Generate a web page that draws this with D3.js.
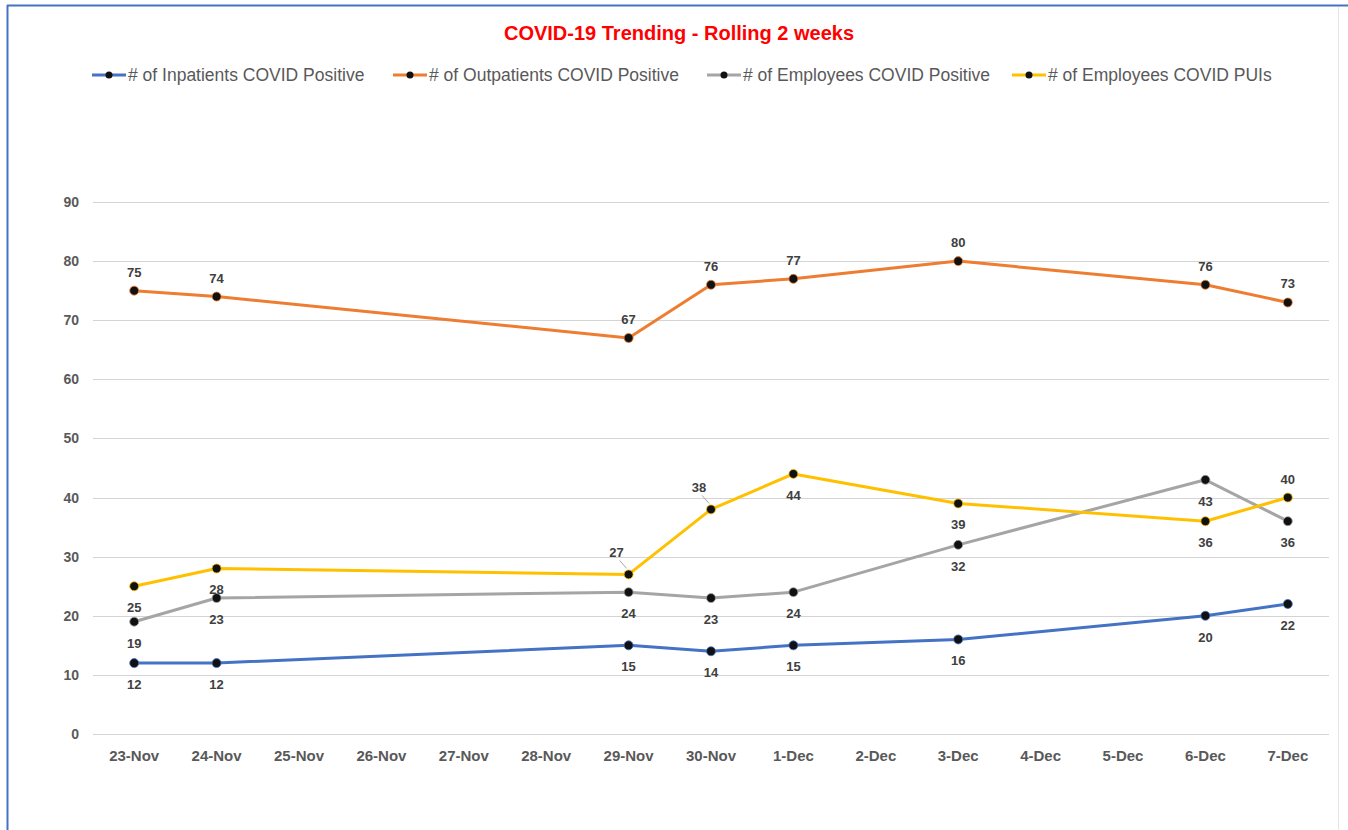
<!DOCTYPE html>
<html>
<head>
<meta charset="utf-8">
<script src="https://cdn.jsdelivr.net/npm/d3@7"></script>
<style>
  body { margin: 0; background: #fff; }
  svg { display: block; font-family: "Liberation Sans", Arial, sans-serif; }
</style>
</head>
<body>
<svg id="chart"></svg>
<script>
// categories on the x axis (one per day)
var days = ["23-Nov", "24-Nov", "25-Nov", "26-Nov", "27-Nov", "28-Nov", "29-Nov",
            "30-Nov", "1-Dec", "2-Dec", "3-Dec", "4-Dec", "5-Dec", "6-Dec", "7-Dec"];

// days that have readings
var reportDays = ["23-Nov", "24-Nov", "29-Nov", "30-Nov", "1-Dec", "3-Dec", "6-Dec", "7-Dec"];

var inpatients = [12, 12, 15, 14, 15, 16, 20, 22];
var outpatients = [75, 74, 67, 76, 77, 80, 76, 73];
var employeesPositive = [19, 23, 24, 23, 24, 32, 43, 36];
var employeesPUI = [25, 28, 27, 38, 44, 39, 36, 40];

var yTicks = [0, 10, 20, 30, 40, 50, 60, 70, 80, 90];

var seriesNames = ["# of Inpatients COVID Positive", "# of Outpatients COVID Positive",
                   "# of Employees COVID Positive", "# of Employees COVID PUIs"];

// parameters
var width = 1348;
var height = 830;
var plotLeft = 93, plotRight = 1329, plotTop = 202, plotBottom = 734;

var svg = d3.select("#chart").attr("width", width).attr("height", height);

// frame
svg.append("rect").attr("x", 0).attr("y", 0).attr("width", width).attr("height", height).attr("fill", "#fff");
svg.append("line").attr("x1", 7).attr("x2", width).attr("y1", 5.5).attr("y2", 5.5)
  .attr("stroke", "#4472C4").attr("stroke-width", 2);
svg.append("line").attr("x1", 7.5).attr("x2", 7.5).attr("y1", 5).attr("y2", height)
  .attr("stroke", "#4472C4").attr("stroke-width", 2);
svg.append("line").attr("x1", 1338.5).attr("x2", 1338.5).attr("y1", 7).attr("y2", height)
  .attr("stroke", "#e4e4ea").attr("stroke-width", 1);

// scales
var x = d3.scaleBand().domain(days).range([plotLeft, plotRight]);
var y = d3.scaleLinear().domain([0, 90]).range([plotBottom, plotTop]);
var cx = function (d) { return x(d) + x.bandwidth() / 2; };

// gridlines
for (var i = 0; i < yTicks.length; i += 1) {
  var gy = Math.round(y(yTicks[i])) + 0.5;
  svg.append("line").attr("x1", plotLeft).attr("x2", plotRight).attr("y1", gy).attr("y2", gy)
    .attr("stroke", "#d4d4d4").attr("stroke-width", 1);
}

// y axis labels
var yAxis = svg.append("g").attr("transform", "translate(" + (plotLeft - 14) + ",0)")
  .call(d3.axisLeft(y).tickValues(yTicks).tickSize(0).tickPadding(0));
yAxis.select(".domain").remove();
yAxis.selectAll("text").attr("font-size", "14px").attr("font-weight", "bold")
  .attr("fill", "#595959").attr("font-family", "Liberation Sans, Arial, sans-serif");

// x axis labels
var xAxis = svg.append("g").attr("transform", "translate(0," + (plotBottom + 16) + ")")
  .call(d3.axisBottom(x).tickSize(0).tickPadding(0));
xAxis.select(".domain").remove();
xAxis.selectAll("text").attr("font-size", "15px").attr("font-weight", "bold")
  .attr("fill", "#595959").attr("font-family", "Liberation Sans, Arial, sans-serif");

// series
var series = [
  { name: seriesNames[0], values: inpatients, color: "#4472C4",
    labels: ["below", "below", "below", "below", "below", "below", "below", "below"] },
  { name: seriesNames[1], values: outpatients, color: "#ED7D31",
    labels: ["above", "above", "above", "above", "above", "above", "above", "above"] },
  { name: seriesNames[2], values: employeesPositive, color: "#A5A5A5",
    labels: ["below", "below", "below", "below", "below", "below", "below", "below"] },
  { name: seriesNames[3], values: employeesPUI, color: "#FFC000",
    labels: ["below", "below", "leader", "leader", "below", "below", "below", "above"] }
];

var line = d3.line()
  .x(function (d) { return cx(d[0]); })
  .y(function (d) { return y(d[1]); });

series.forEach(function (s) {
  var pts = reportDays.map(function (d, i) { return [d, s.values[i]]; });
  svg.append("path").attr("d", line(pts)).attr("fill", "none")
    .attr("stroke", s.color).attr("stroke-width", 3).attr("stroke-linejoin", "round");
  pts.forEach(function (p) {
    svg.append("circle").attr("cx", cx(p[0])).attr("cy", y(p[1])).attr("r", 4.5)
      .attr("fill", "#111").attr("stroke", s.color).attr("stroke-width", 0.8);
  });
});

// data labels
series.forEach(function (s) {
  reportDays.forEach(function (d, i) {
    var px = cx(d), py = y(s.values[i]);
    var lx = px, ly;
    if (s.labels[i] === "above") ly = py - 14;
    else if (s.labels[i] === "below") ly = py + 26;
    else {
      lx = px - 12; ly = py - 17;
      svg.append("line").attr("x1", px - 9).attr("y1", py - 14).attr("x2", px - 2).attr("y2", py - 6)
        .attr("stroke", "#a6a6a6").attr("stroke-width", 1);
    }
    svg.append("text").attr("x", lx).attr("y", ly).attr("text-anchor", "middle")
      .attr("font-size", "13px").attr("font-weight", "bold").attr("fill", "#404040")
      .text(s.values[i]);
  });
});

// title
svg.append("text").attr("x", 679).attr("y", 40).attr("text-anchor", "middle")
  .attr("font-size", "20px").attr("font-weight", "bold").attr("fill", "#FF0000")
  .text("COVID-19 Trending - Rolling 2 weeks");

// legend
var legendX = [92, 393, 707, 1012];
series.forEach(function (s, i) {
  var g = svg.append("g").attr("transform", "translate(" + legendX[i] + ",75)");
  g.append("line").attr("x1", 0).attr("x2", 34).attr("y1", 0).attr("y2", 0)
    .attr("stroke", s.color).attr("stroke-width", 3);
  g.append("circle").attr("cx", 17).attr("cy", 0).attr("r", 3.5).attr("fill", "#111");
  g.append("text").attr("x", 36).attr("y", 6).attr("font-size", "17.5px")
    .attr("fill", "#595959").text(s.name);
});
</script>
</body>
</html>
